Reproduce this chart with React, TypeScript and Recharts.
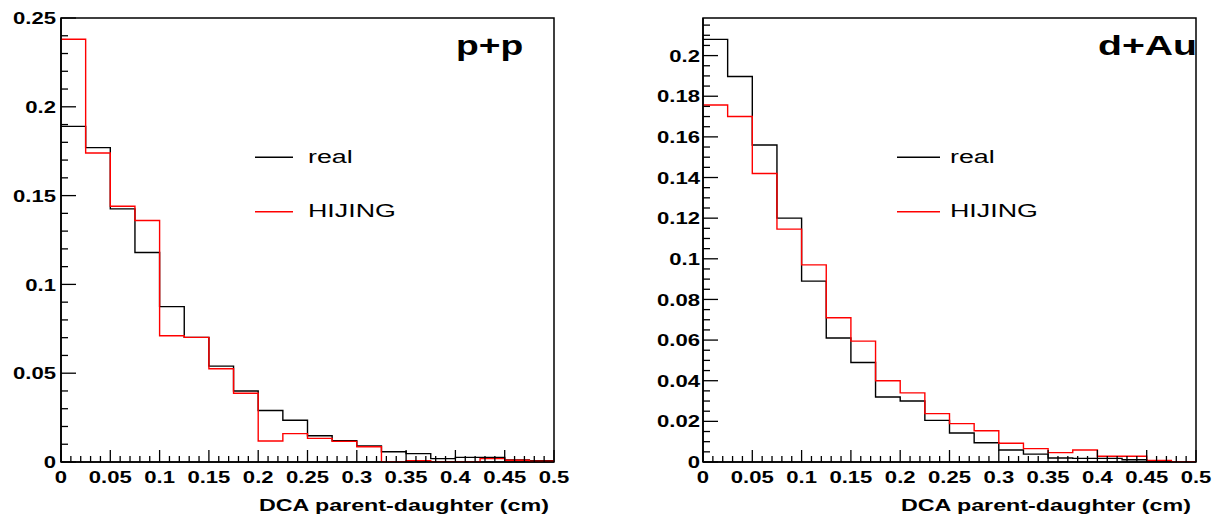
import React from 'react';
import { LineChart, Line, XAxis, YAxis, ReferenceArea, Legend } from 'recharts';

// ---------- data ----------
const binEdges = [0, 0.025, 0.05, 0.075, 0.1, 0.125, 0.15, 0.175, 0.2, 0.225, 0.25, 0.275, 0.3, 0.325, 0.35, 0.375, 0.4, 0.425, 0.45, 0.475];
const xMax = 0.5;

const ppReal = [0.189, 0.177, 0.1425, 0.118, 0.0875, 0.0702, 0.054, 0.040, 0.029, 0.0235, 0.0148, 0.012, 0.009, 0.0058, 0.0047, 0.0019, 0.0026, 0.0026, 0.0011, 0.0008];
const ppHijing = [0.238, 0.174, 0.144, 0.136, 0.0711, 0.0702, 0.0525, 0.0387, 0.0118, 0.016, 0.0133, 0.0116, 0.0086, 0.0002, 0.0008, 0.0002, 0.0002, 0.0019, 0.001, 0.0004];

const dauReal = [0.208, 0.1897, 0.156, 0.120, 0.089, 0.061, 0.049, 0.032, 0.030, 0.0205, 0.0143, 0.0095, 0.0059, 0.0039, 0.002, 0.0018, 0.0018, 0.0011, 0.0005, 0.0002];
const dauHijing = [0.1757, 0.170, 0.142, 0.1146, 0.097, 0.071, 0.0595, 0.040, 0.034, 0.0238, 0.0189, 0.0154, 0.0092, 0.0066, 0.0046, 0.0059, 0.0028, 0.0028, 0.0008, 0.0002];

const xMajorTicks = [0, 0.05, 0.1, 0.15, 0.2, 0.25, 0.3, 0.35, 0.4, 0.45, 0.5];
const xMajorLabels = ['0', '0.05', '0.1', '0.15', '0.2', '0.25', '0.3', '0.35', '0.4', '0.45', '0.5'];

const ppYMajorTicks = [0, 0.05, 0.1, 0.15, 0.2, 0.25];
const ppYMajorLabels = ['0', '0.05', '0.1', '0.15', '0.2', '0.25'];

const dauYMajorTicks = [0, 0.02, 0.04, 0.06, 0.08, 0.1, 0.12, 0.14, 0.16, 0.18, 0.2];
const dauYMajorLabels = ['0', '0.02', '0.04', '0.06', '0.08', '0.1', '0.12', '0.14', '0.16', '0.18', '0.2'];

const seriesNames = ['real', 'HIJING'];
const seriesColors: Record<string, string> = { real: '#000000', HIJING: '#ff0000' };
const xTitle = 'DCA parent-daughter (cm)';

// ---------- helpers ----------
const FONT = 'Liberation Sans, Arial, Helvetica, sans-serif';

function buildRows(real: number[], hijing: number[]) {
  const rows = binEdges.map((x, i) => ({ x, real: real[i], HIJING: hijing[i] }));
  rows.push({ x: xMax, real: real[real.length - 1], HIJING: hijing[hijing.length - 1] });
  return rows;
}

function stepTicks(max: number, step: number) {
  const n = Math.floor(max / step + 1e-6);
  const out: number[] = [];
  for (let i = 0; i <= n; i++) out.push(+(i * step).toFixed(5));
  return out;
}

function findMajor(v: number, majors: number[]) {
  return majors.findIndex((m) => Math.abs(m - v) < 1e-6);
}

const makeXTick = () => (props: any) => {
  const { x, y, payload } = props;
  const idx = findMajor(payload.value, xMajorTicks);
  const major = idx >= 0;
  return (
    <g>
      <line x1={x} x2={x} y1={y} y2={y - (major ? 12 : 6)} stroke="#000" strokeWidth={1.3} />
      {major && (
        <text
          transform={`translate(${x},${y + 21}) scale(1.3,1)`}
          textAnchor="middle"
          fontFamily={FONT}
          fontWeight="bold"
          fontSize={17}
          fill="#000"
        >
          {xMajorLabels[idx]}
        </text>
      )}
    </g>
  );
};

const makeYTick = (majors: number[], labels: string[], gap: number) => (props: any) => {
  const { x, y, payload } = props;
  const idx = findMajor(payload.value, majors);
  const major = idx >= 0;
  return (
    <g>
      <line x1={x} x2={x + (major ? 15 : 7)} y1={y} y2={y} stroke="#000" strokeWidth={1.3} />
      {major && (
        <text
          transform={`translate(${x - gap},${y}) scale(1.3,1)`}
          textAnchor="end"
          dy="0.36em"
          fontFamily={FONT}
          fontWeight="bold"
          fontSize={17}
          fill="#000"
        >
          {labels[idx]}
        </text>
      )}
    </g>
  );
};

const renderXTitle = (props: any) => {
  const vb = props.viewBox || {};
  return (
    <text
      transform={`translate(${vb.x + vb.width - 5},${vb.y + 49}) scale(1.37,1)`}
      textAnchor="end"
      fontFamily={FONT}
      fontWeight="bold"
      fontSize={17}
      fill="#000"
    >
      {xTitle}
    </text>
  );
};

const makeLegend = (lineLen: number) => (props: any) => {
  const payload = (props.payload || []).slice().sort(
    (a: any, b: any) => seriesNames.indexOf(a.value) - seriesNames.indexOf(b.value)
  );
  return (
    <svg width={220} height={90} style={{ overflow: 'visible', display: 'block' }}>
      {payload.map((p: any, i: number) => (
        <g key={p.value} transform={`translate(0,${i * 54.4})`}>
          <line x1={0} x2={lineLen} y1={17.3} y2={17.3} stroke={seriesColors[p.value] || p.color} strokeWidth={1.4} />
          <text
            transform={`translate(53,22.7) scale(1.45,1)`}
            fontFamily={FONT}
            fontSize={18.5}
            fill="#000"
          >
            {p.value}
          </text>
        </g>
      ))}
    </svg>
  );
};

type PanelProps = {
  real: number[];
  hijing: number[];
  yMax: number;
  yMajors: number[];
  yLabels: string[];
  yMinorStep: number;
  title: string;
  titleX: number;
  titleScale: number;
  width: number;
  yAxisWidth: number;
  rightMargin: number;
  yGap: number;
  legendLeft: number;
  legendLine: number;
};

const CH = 508;

function Panel(p: PanelProps) {
  const rows = buildRows(p.real, p.hijing);
  const xTicks = stepTicks(xMax, 0.01);
  const yTicks = stepTicks(p.yMax, p.yMinorStep);
  return (
    <div style={{ position: 'relative', width: p.width, height: CH }}>
      <LineChart
        width={p.width}
        height={CH}
        data={rows}
        margin={{ top: 10, right: p.rightMargin, bottom: 0, left: 0 }}
      >
        <XAxis
          dataKey="x"
          type="number"
          domain={[0, xMax]}
          allowDataOverflow
          ticks={xTicks}
          interval={0}
          tickSize={0}
          tickMargin={0}
          tickLine={false}
          axisLine={{ stroke: '#000', strokeWidth: 1.6 }}
          tick={makeXTick()}
          height={CH - 10 - 444}
          label={{ value: xTitle, content: renderXTitle }}
        />
        <YAxis
          type="number"
          domain={[0, p.yMax]}
          allowDataOverflow
          ticks={yTicks}
          interval={0}
          tickSize={0}
          tickMargin={0}
          tickLine={false}
          axisLine={{ stroke: '#000', strokeWidth: 1.6 }}
          tick={makeYTick(p.yMajors, p.yLabels, p.yGap)}
          width={p.yAxisWidth}
        />
        <ReferenceArea
          x1={0}
          x2={xMax}
          y1={0}
          y2={p.yMax}
          fill="none"
          fillOpacity={0}
          stroke="#000"
          strokeWidth={1.5}
          ifOverflow="visible"
        />
        <Line
          type="stepAfter"
          dataKey="real"
          name="real"
          stroke={seriesColors.real}
          strokeWidth={1.4}
          dot={false}
          activeDot={false}
          isAnimationActive={false}
        />
        <Line
          type="stepAfter"
          dataKey="HIJING"
          name="HIJING"
          stroke={seriesColors.HIJING}
          strokeWidth={1.4}
          dot={false}
          activeDot={false}
          isAnimationActive={false}
        />
        <Legend
          layout="horizontal"
          verticalAlign="middle"
          align="center"
          content={makeLegend(p.legendLine)}
          wrapperStyle={{ position: 'absolute', left: p.legendLeft, top: 132, width: 220, height: 90 }}
        />
      </LineChart>
      <svg
        width={p.width}
        height={CH}
        style={{ position: 'absolute', left: 0, top: 0, pointerEvents: 'none', overflow: 'visible' }}
      >
        <text
          transform={`translate(${p.titleX},47) scale(${p.titleScale},1)`}
          fontFamily={FONT}
          fontWeight="bold"
          fontSize={28}
          fill="#000"
        >
          {p.title}
        </text>
      </svg>
    </div>
  );
}

export default function App() {
  return (
    <div style={{ display: 'flex', width: 1218, height: CH, background: '#fff' }}>
      <Panel
        real={ppReal}
        hijing={ppHijing}
        yMax={0.25}
        yMajors={ppYMajorTicks}
        yLabels={ppYMajorLabels}
        yMinorStep={0.01}
        title="p+p"
        titleX={448}
        titleScale={1.33}
        width={640}
        yAxisWidth={53}
        rightMargin={94}
        yGap={5}
        legendLeft={247}
        legendLine={38}
      />
      <Panel
        real={dauReal}
        hijing={dauHijing}
        yMax={0.2185}
        yMajors={dauYMajorTicks}
        yLabels={dauYMajorLabels}
        yMinorStep={0.005}
        title="d+Au"
        titleX={450}
        titleScale={1.4}
        width={578}
        yAxisWidth={55}
        rightMargin={30}
        yGap={3}
        legendLeft={249}
        legendLine={43}
      />
    </div>
  );
}
